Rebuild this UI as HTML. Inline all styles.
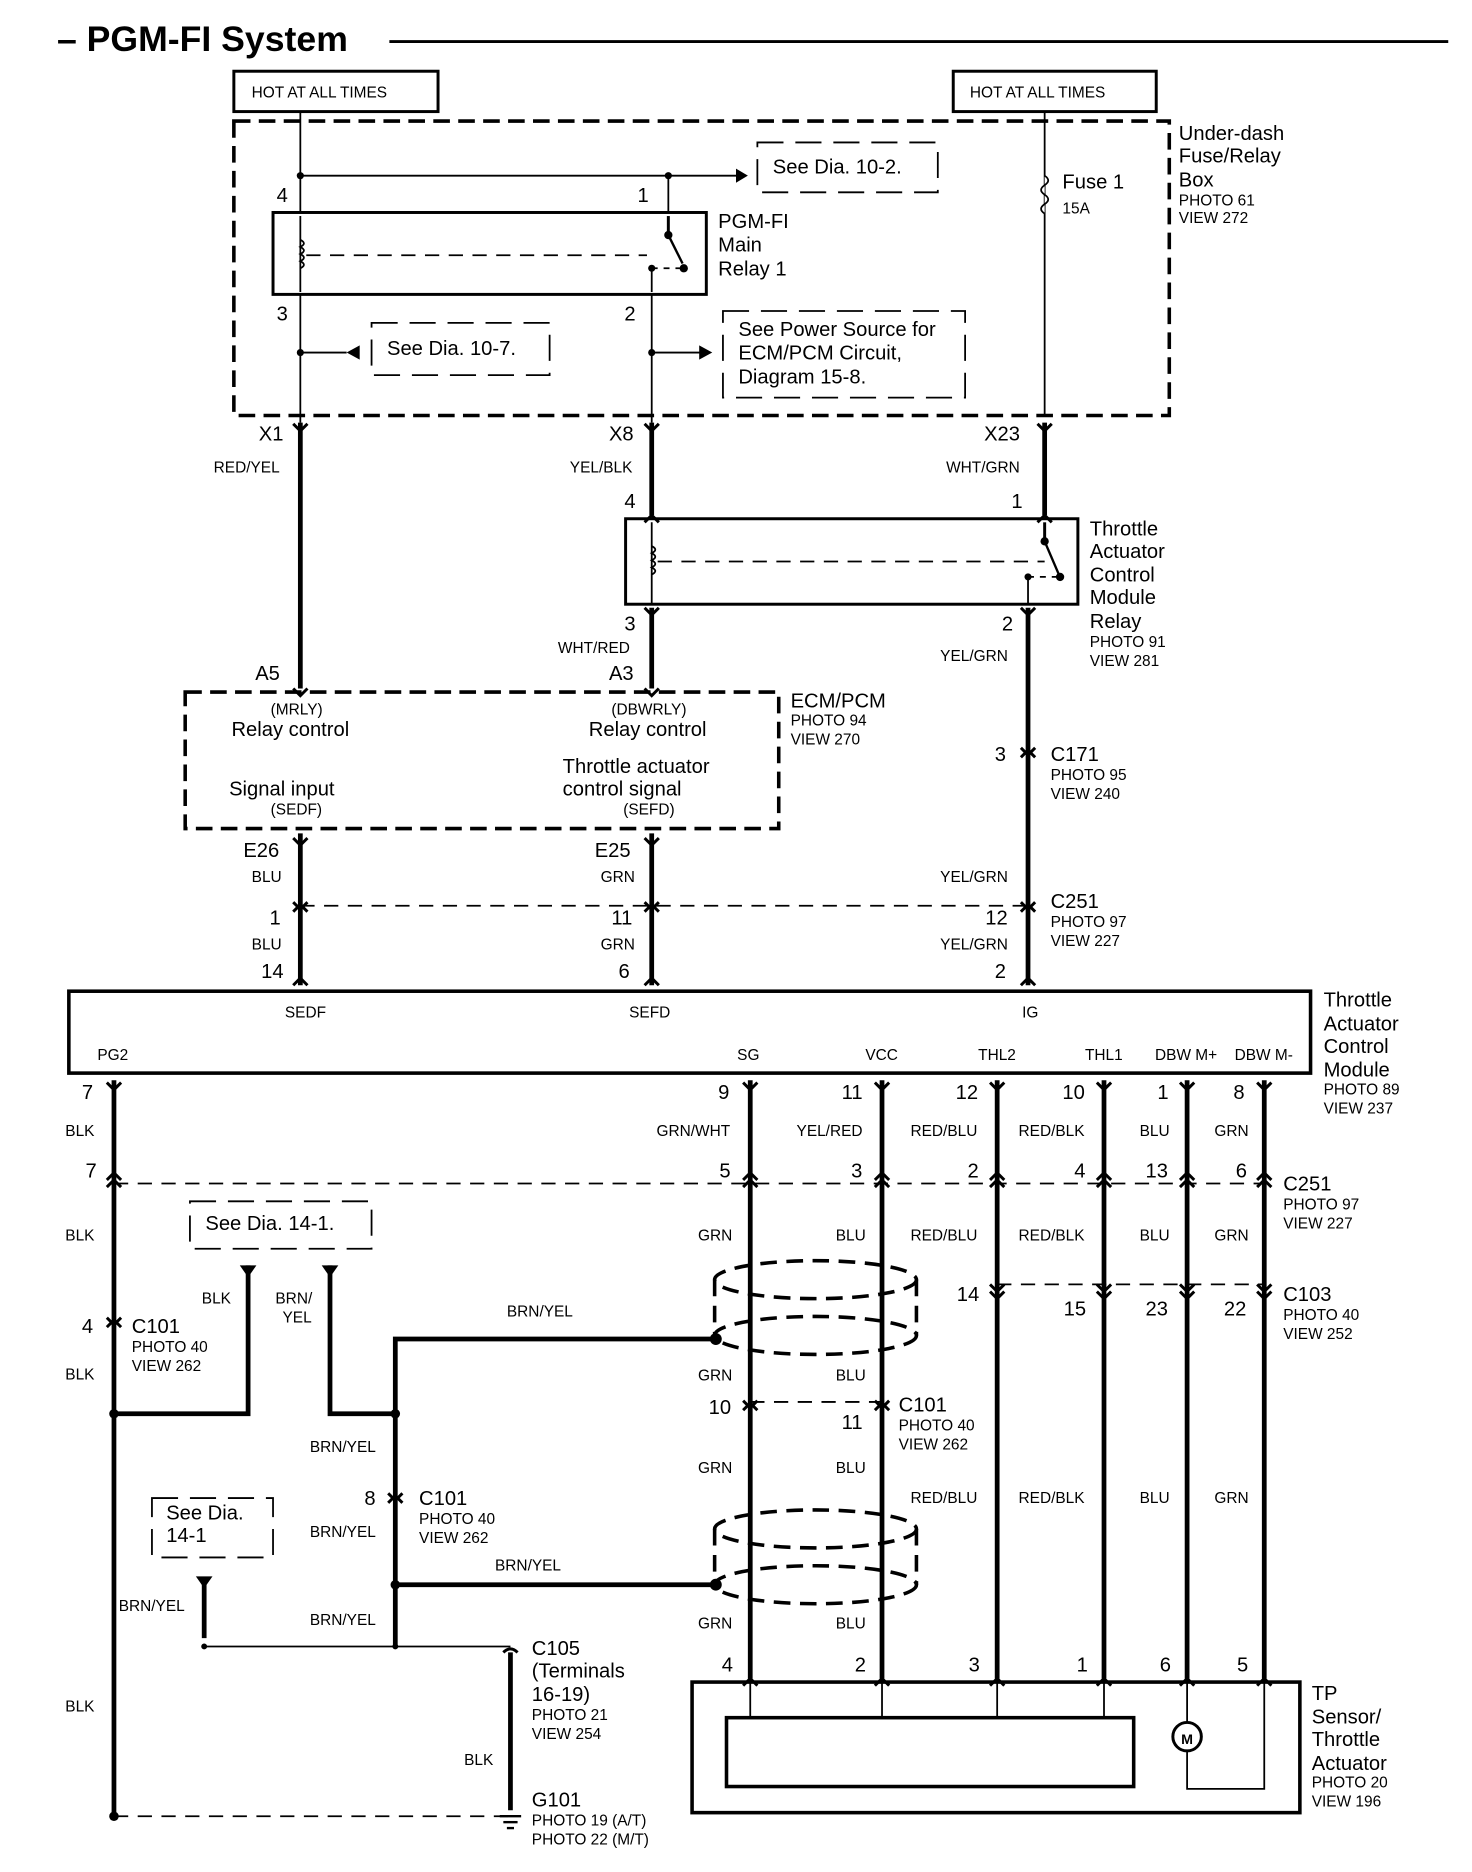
<!DOCTYPE html>
<html><head><style>
html,body{margin:0;padding:0;background:#fff}
svg{display:block}
text{font-family:"Liberation Sans",Arial,sans-serif;fill:#000}
.l{font-size:17px}.s{font-size:13px}.c{font-size:13px}
</style></head><body>
<svg width="1472" height="1872" viewBox="0 0 1240 1577" preserveAspectRatio="none" xmlns="http://www.w3.org/2000/svg">
<g stroke="#000" fill="none">
<!-- title line -->
<line x1="328" y1="35" x2="1220" y2="35" stroke-width="2.5"/>
<!-- hot boxes -->
<rect x="197" y="60" width="172" height="34" stroke-width="2.5"/>
<rect x="803" y="60" width="171" height="34" stroke-width="2.5"/>
<!-- under-dash box -->
<rect x="197" y="102" width="788" height="248" stroke-width="3" stroke-dasharray="14,7"/>
<!-- thin wires inside -->
<g stroke-width="1.5">
<line x1="253" y1="94" x2="253" y2="179"/>
<line x1="253" y1="148" x2="628" y2="148"/>
<line x1="563" y1="148" x2="563" y2="179"/>
<line x1="880" y1="94" x2="880" y2="350"/>
<line x1="253" y1="248" x2="253" y2="356"/>
<line x1="549" y1="248" x2="549" y2="356"/>
<line x1="253" y1="297" x2="292" y2="297"/>
<line x1="549" y1="297" x2="592" y2="297"/>
<!-- coil -->
<line x1="253" y1="182" x2="253" y2="246"/>
<line x1="258" y1="215" x2="545" y2="215" stroke-dasharray="12,8"/>
<line x1="563" y1="182" x2="563" y2="198" stroke-width="2.5"/>
<line x1="563" y1="198" x2="575" y2="222" stroke-width="2"/>
<line x1="549" y1="226" x2="549" y2="246"/>
<line x1="549" y1="226" x2="575" y2="226" stroke-dasharray="5,5"/>
<!-- fuse -->
<path d="M880 148 q6 4 0 8 q-6 4 0 8 q6 4 0 8 q-6 4 0 8" fill="#fff"/>
</g>
<g fill="#000" stroke="none">
<circle cx="253" cy="148" r="3"/><circle cx="563" cy="148" r="3"/>
<circle cx="563" cy="198" r="3.5"/><circle cx="576" cy="226" r="3.5"/><circle cx="549" cy="226" r="3"/>
<circle cx="253" cy="297" r="3"/><circle cx="549" cy="297" r="3"/>
<polygon points="630,148 620,142 620,154"/>
<polygon points="292,297 303,291 303,303"/>
<polygon points="600,297 589,291 589,303"/>
</g>
<g stroke-width="1.5">
<path d="M253 215 m0 -13 q6 3 0 6 q6 3 0 6 q6 3 0 6 q6 3 0 6"/>
</g>
<rect x="230" y="179" width="365" height="69" stroke-width="2.5"/>
<!-- see boxes -->
<g stroke-width="1.5" stroke-dasharray="22,10">
<rect x="638" y="120" width="152" height="42"/>
<rect x="313" y="272" width="150" height="44"/>
<rect x="609" y="262" width="204" height="73"/>
<rect x="160" y="1012" width="153" height="40"/>
<rect x="128" y="1262" width="102" height="50"/>
</g>
<!-- thick wires -->
<g stroke-width="4">
<line x1="253" y1="356" x2="253" y2="580"/>
<line x1="549" y1="356" x2="549" y2="434"/>
<line x1="880" y1="356" x2="880" y2="434"/>
<line x1="549" y1="512" x2="549" y2="580"/>
<line x1="866" y1="512" x2="866" y2="830"/>
<line x1="253" y1="702" x2="253" y2="830"/>
<line x1="549" y1="702" x2="549" y2="830"/>
<line x1="96" y1="910" x2="96" y2="1530"/>
<line x1="632" y1="910" x2="632" y2="1414"/>
<line x1="743" y1="910" x2="743" y2="1414"/>
<line x1="840" y1="910" x2="840" y2="1414"/>
<line x1="930" y1="910" x2="930" y2="1414"/>
<line x1="1000" y1="910" x2="1000" y2="1414"/>
<line x1="1065" y1="910" x2="1065" y2="1414"/>
<polyline points="603,1128 333,1128 333,1387"/>
<polyline points="96,1191 209,1191 209,1066"/>
<polyline points="278,1066 278,1191 333,1191"/>
<line x1="333" y1="1335" x2="603" y2="1335"/>
<line x1="172" y1="1330" x2="172" y2="1380"/>
<line x1="430" y1="1392" x2="430" y2="1525"/>
</g>
<!-- thin -->
<g stroke-width="1.5">
<line x1="172" y1="1387" x2="430" y2="1387"/>
<line x1="96" y1="1530" x2="430" y2="1530" stroke-dasharray="12,8"/>
<line x1="253" y1="763" x2="866" y2="763" stroke-dasharray="12,8"/>
<line x1="96" y1="997" x2="1065" y2="997" stroke-dasharray="12,8"/>
<line x1="840" y1="1082" x2="1065" y2="1082" stroke-dasharray="12,8"/>
<line x1="632" y1="1181" x2="743" y2="1181" stroke-dasharray="12,8"/>
<line x1="632" y1="1417" x2="632" y2="1447"/>
<line x1="743" y1="1417" x2="743" y2="1447"/>
<line x1="840" y1="1417" x2="840" y2="1447"/>
<line x1="930" y1="1417" x2="930" y2="1447"/>
<line x1="1000" y1="1417" x2="1000" y2="1451"/>
<polyline points="1000,1475 1000,1507 1065,1507 1065,1417"/>
<line x1="549" y1="440" x2="549" y2="509"/>
<line x1="554" y1="473" x2="880" y2="473" stroke-dasharray="12,8"/>
<line x1="880" y1="440" x2="880" y2="456" stroke-width="2.5"/>
<line x1="880" y1="456" x2="892" y2="484" stroke-width="2"/>
<line x1="866" y1="486" x2="866" y2="509"/>
<line x1="866" y1="486" x2="892" y2="486" stroke-dasharray="5,5"/>
<path d="M549 460 q6 3 0 6 q6 3 0 6 q6 3 0 6 q6 3 0 6"/>
</g>
<g fill="#000" stroke="none">
<circle cx="880" cy="456" r="3.5"/><circle cx="893" cy="486" r="3.5"/><circle cx="866" cy="486" r="3"/>
<circle cx="96" cy="1191" r="4"/><circle cx="333" cy="1191" r="4"/><circle cx="333" cy="1335" r="4"/>
<circle cx="603" cy="1128" r="5"/><circle cx="603" cy="1335" r="5"/>
<circle cx="96" cy="1530" r="4"/><circle cx="172" cy="1387" r="2.5"/><circle cx="333" cy="1387" r="2.5"/>
<polygon points="202,1066 216,1066 209,1076"/>
<polygon points="271,1066 285,1066 278,1076"/>
<polygon points="165,1328 179,1328 172,1338"/>
</g>
<!-- ground -->
<g stroke-width="2"><line x1="421" y1="1530" x2="439" y2="1530"/><line x1="424" y1="1535" x2="436" y2="1535"/><line x1="427" y1="1540" x2="433" y2="1540"/></g>
<!-- connector forks -->
<g stroke-width="2.5">
<path d="M247 357 l6 6 l6 -6 M543 357 l6 6 l6 -6 M874 357 l6 6 l6 -6"/>
<path d="M543 440 l6 -6 l6 6 M874 440 l6 -6 l6 6"/>
<path d="M543 512 l6 6 l6 -6 M860 512 l6 6 l6 -6"/>
<path d="M247 580 l6 6 l6 -6 M543 580 l6 6 l6 -6"/>
<path d="M247 706 l6 6 l6 -6 M543 706 l6 6 l6 -6"/>
<path d="M860 630 l6 6 l6 -6 M860 638 l6 -6 l6 6"/>
<path d="M247 760 l6 6 l6 -6 M247 768 l6 -6 l6 6 M543 760 l6 6 l6 -6 M543 768 l6 -6 l6 6 M860 760 l6 6 l6 -6 M860 768 l6 -6 l6 6"/>
<path d="M247 830 l6 -6 l6 6 M543 830 l6 -6 l6 6 M860 830 l6 -6 l6 6"/>
<path d="M90 912 l6 6 l6 -6 M626 912 l6 6 l6 -6 M737 912 l6 6 l6 -6 M834 912 l6 6 l6 -6 M924 912 l6 6 l6 -6 M994 912 l6 6 l6 -6 M1059 912 l6 6 l6 -6"/>
<path d="M90 994 l6 -6 l6 6 M90 1000 l6 -6 l6 6 M626 994 l6 -6 l6 6 M626 1000 l6 -6 l6 6 M737 994 l6 -6 l6 6 M737 1000 l6 -6 l6 6 M834 994 l6 -6 l6 6 M834 1000 l6 -6 l6 6 M924 994 l6 -6 l6 6 M924 1000 l6 -6 l6 6 M994 994 l6 -6 l6 6 M994 1000 l6 -6 l6 6 M1059 994 l6 -6 l6 6 M1059 1000 l6 -6 l6 6"/>
<path d="M834 1082 l6 6 l6 -6 M834 1088 l6 6 l6 -6 M924 1082 l6 6 l6 -6 M924 1088 l6 6 l6 -6 M994 1082 l6 6 l6 -6 M994 1088 l6 6 l6 -6 M1059 1082 l6 6 l6 -6 M1059 1088 l6 6 l6 -6"/>
<path d="M90 1110 l6 6 l6 -6 M90 1118 l6 -6 l6 6 M626 1180 l6 6 l6 -6 M626 1188 l6 -6 l6 6 M737 1180 l6 6 l6 -6 M737 1188 l6 -6 l6 6 M327 1258 l6 6 l6 -6 M327 1266 l6 -6 l6 6"/>
<path d="M626 1420 l6 -6 l6 6 M737 1420 l6 -6 l6 6 M834 1420 l6 -6 l6 6 M924 1420 l6 -6 l6 6 M994 1420 l6 -6 l6 6 M1059 1420 l6 -6 l6 6"/>
<path d="M424 1392 q6 -6 12 0"/>
</g>
<!-- shields -->
<g stroke-width="3" stroke-dasharray="14,8">
<ellipse cx="687" cy="1078" rx="85" ry="16"/><ellipse cx="687" cy="1125" rx="85" ry="16"/>
<line x1="602" y1="1078" x2="602" y2="1125"/><line x1="772" y1="1078" x2="772" y2="1125"/>
<ellipse cx="687" cy="1288" rx="85" ry="16"/><ellipse cx="687" cy="1335" rx="85" ry="16"/>
<line x1="602" y1="1288" x2="602" y2="1335"/><line x1="772" y1="1288" x2="772" y2="1335"/>
</g>
<!-- ECM box -->
<rect x="156" y="583" width="500" height="115" stroke-width="3" stroke-dasharray="14,7"/>
<!-- relay TACM -->
<rect x="527" y="437" width="381" height="72" stroke-width="2.5"/>
<!-- TACM -->
<rect x="58" y="835" width="1046" height="69" stroke-width="3"/>
<!-- TP box -->
<rect x="583" y="1417" width="512" height="110" stroke-width="3"/>
<rect x="612" y="1447" width="343" height="58" stroke-width="3"/>
<circle cx="1000" cy="1463" r="12" stroke-width="2.5"/>
</g>
<text x="48" y="43" style="font-size:30px;font-weight:bold">– PGM-FI System</text>
<text x="212" y="82" class="s">HOT AT ALL TIMES</text>
<text x="817" y="82" class="s">HOT AT ALL TIMES</text>
<text x="651" y="146" class="l">See Dia. 10-2.</text>
<text x="326" y="299" class="l">See Dia. 10-7.</text>
<text x="622" y="283" class="l">See Power Source for</text>
<text x="622" y="303" class="l">ECM/PCM Circuit,</text>
<text x="622" y="323" class="l">Diagram 15-8.</text>
<text x="605" y="192" class="l">PGM-FI</text><text x="605" y="212" class="l">Main</text><text x="605" y="232" class="l">Relay 1</text>
<text x="233" y="170" class="l">4</text><text x="537" y="170" class="l">1</text>
<text x="233" y="270" class="l">3</text><text x="526" y="270" class="l">2</text>
<text x="895" y="159" class="l">Fuse 1</text><text x="895" y="180" class="s">15A</text>
<text x="993" y="118" class="l">Under-dash</text><text x="993" y="137" class="l">Fuse/Relay</text><text x="993" y="157" class="l">Box</text>
<text x="993" y="173" class="s">PHOTO 61</text><text x="993" y="188" class="s">VIEW 272</text>
<text x="218" y="371" class="l">X1</text><text x="513" y="371" class="l">X8</text><text x="829" y="371" class="l">X23</text>
<text x="180" y="398" class="c">RED/YEL</text><text x="480" y="398" class="c">YEL/BLK</text><text x="797" y="398" class="c">WHT/GRN</text>
<text x="526" y="428" class="l">4</text><text x="852" y="428" class="l">1</text>
<text x="918" y="451" class="l">Throttle</text><text x="918" y="470" class="l">Actuator</text><text x="918" y="490" class="l">Control</text><text x="918" y="509" class="l">Module</text><text x="918" y="529" class="l">Relay</text>
<text x="918" y="545" class="s">PHOTO 91</text><text x="918" y="561" class="s">VIEW 281</text>
<text x="526" y="531" class="l">3</text><text x="844" y="531" class="l">2</text>
<text x="470" y="550" class="c">WHT/RED</text><text x="792" y="557" class="c">YEL/GRN</text>
<text x="215" y="573" class="l">A5</text><text x="513" y="573" class="l">A3</text>
<text x="666" y="596" class="l">ECM/PCM</text><text x="666" y="611" class="s">PHOTO 94</text><text x="666" y="627" class="s">VIEW 270</text>
<text x="228" y="602" class="c">(MRLY)</text><text x="195" y="620" class="l">Relay control</text>
<text x="515" y="602" class="c">(DBWRLY)</text><text x="496" y="620" class="l">Relay control</text>
<text x="193" y="670" class="l">Signal input</text><text x="228" y="686" class="c">(SEDF)</text>
<text x="474" y="651" class="l">Throttle actuator</text><text x="474" y="670" class="l">control signal</text><text x="525" y="686" class="c">(SEFD)</text>
<text x="838" y="641" class="l">3</text><text x="885" y="641" class="l">C171</text><text x="885" y="657" class="s">PHOTO 95</text><text x="885" y="673" class="s">VIEW 240</text>
<text x="205" y="722" class="l">E26</text><text x="501" y="722" class="l">E25</text>
<text x="212" y="743" class="c">BLU</text><text x="506" y="743" class="c">GRN</text><text x="792" y="743" class="c">YEL/GRN</text>
<text x="227" y="779" class="l">1</text><text x="515" y="779" class="l">11</text><text x="830" y="779" class="l">12</text>
<text x="885" y="765" class="l">C251</text><text x="885" y="781" class="s">PHOTO 97</text><text x="885" y="797" class="s">VIEW 227</text>
<text x="212" y="800" class="c">BLU</text><text x="506" y="800" class="c">GRN</text><text x="792" y="800" class="c">YEL/GRN</text>
<text x="220" y="824" class="l">14</text><text x="521" y="824" class="l">6</text><text x="838" y="824" class="l">2</text>
<text x="240" y="857" class="c">SEDF</text><text x="530" y="857" class="c">SEFD</text><text x="861" y="857" class="c">IG</text>
<text x="82" y="893" class="c">PG2</text><text x="621" y="893" class="c">SG</text><text x="729" y="893" class="c">VCC</text><text x="824" y="893" class="c">THL2</text><text x="914" y="893" class="c">THL1</text><text x="973" y="893" class="c">DBW M+</text><text x="1040" y="893" class="c">DBW M-</text>
<text x="1115" y="848" class="l">Throttle</text><text x="1115" y="868" class="l">Actuator</text><text x="1115" y="887" class="l">Control</text><text x="1115" y="907" class="l">Module</text>
<text x="1115" y="922" class="s">PHOTO 89</text><text x="1115" y="938" class="s">VIEW 237</text>
<text x="69" y="926" class="l">7</text><text x="605" y="926" class="l">9</text><text x="709" y="926" class="l">11</text><text x="805" y="926" class="l">12</text><text x="895" y="926" class="l">10</text><text x="975" y="926" class="l">1</text><text x="1039" y="926" class="l">8</text>
<text x="55" y="957" class="c">BLK</text><text x="553" y="957" class="c">GRN/WHT</text><text x="671" y="957" class="c">YEL/RED</text><text x="767" y="957" class="c">RED/BLU</text><text x="858" y="957" class="c">RED/BLK</text><text x="960" y="957" class="c">BLU</text><text x="1023" y="957" class="c">GRN</text>
<text x="72" y="992" class="l">7</text><text x="606" y="992" class="l">5</text><text x="717" y="992" class="l">3</text><text x="815" y="992" class="l">2</text><text x="905" y="992" class="l">4</text><text x="965" y="992" class="l">13</text><text x="1041" y="992" class="l">6</text>
<text x="1081" y="1003" class="l">C251</text><text x="1081" y="1019" class="s">PHOTO 97</text><text x="1081" y="1035" class="s">VIEW 227</text>
<text x="55" y="1045" class="c">BLK</text><text x="588" y="1045" class="c">GRN</text><text x="704" y="1045" class="c">BLU</text><text x="767" y="1045" class="c">RED/BLU</text><text x="858" y="1045" class="c">RED/BLK</text><text x="960" y="1045" class="c">BLU</text><text x="1023" y="1045" class="c">GRN</text>
<text x="173" y="1036" class="l">See Dia. 14-1.</text>
<text x="170" y="1098" class="c">BLK</text><text x="232" y="1098" class="c">BRN/</text><text x="238" y="1114" class="c">YEL</text>
<text x="806" y="1096" class="l">14</text><text x="896" y="1108" class="l">15</text><text x="965" y="1108" class="l">23</text><text x="1031" y="1108" class="l">22</text>
<text x="1081" y="1096" class="l">C103</text><text x="1081" y="1112" class="s">PHOTO 40</text><text x="1081" y="1128" class="s">VIEW 252</text>
<text x="427" y="1109" class="c">BRN/YEL</text>
<text x="69" y="1123" class="l">4</text><text x="111" y="1123" class="l">C101</text><text x="111" y="1139" class="s">PHOTO 40</text><text x="111" y="1155" class="s">VIEW 262</text>
<text x="55" y="1162" class="c">BLK</text><text x="588" y="1163" class="c">GRN</text><text x="704" y="1163" class="c">BLU</text>
<text x="597" y="1191" class="l">10</text><text x="709" y="1204" class="l">11</text>
<text x="757" y="1189" class="l">C101</text><text x="757" y="1205" class="s">PHOTO 40</text><text x="757" y="1221" class="s">VIEW 262</text>
<text x="261" y="1223" class="c">BRN/YEL</text>
<text x="588" y="1241" class="c">GRN</text><text x="704" y="1241" class="c">BLU</text>
<text x="767" y="1266" class="c">RED/BLU</text><text x="858" y="1266" class="c">RED/BLK</text><text x="960" y="1266" class="c">BLU</text><text x="1023" y="1266" class="c">GRN</text>
<text x="307" y="1268" class="l">8</text><text x="353" y="1268" class="l">C101</text><text x="353" y="1284" class="s">PHOTO 40</text><text x="353" y="1300" class="s">VIEW 262</text>
<text x="140" y="1280" class="l">See Dia.</text><text x="140" y="1299" class="l">14-1</text>
<text x="261" y="1295" class="c">BRN/YEL</text><text x="417" y="1323" class="c">BRN/YEL</text>
<text x="100" y="1357" class="c">BRN/YEL</text><text x="261" y="1369" class="c">BRN/YEL</text>
<text x="588" y="1372" class="c">GRN</text><text x="704" y="1372" class="c">BLU</text>
<text x="448" y="1394" class="l">C105</text><text x="448" y="1413" class="l">(Terminals</text><text x="448" y="1433" class="l">16-19)</text>
<text x="448" y="1449" class="s">PHOTO 21</text><text x="448" y="1465" class="s">VIEW 254</text>
<text x="608" y="1408" class="l">4</text><text x="720" y="1408" class="l">2</text><text x="816" y="1408" class="l">3</text><text x="907" y="1408" class="l">1</text><text x="977" y="1408" class="l">6</text><text x="1042" y="1408" class="l">5</text>
<text x="1105" y="1432" class="l">TP</text><text x="1105" y="1452" class="l">Sensor/</text><text x="1105" y="1471" class="l">Throttle</text><text x="1105" y="1491" class="l">Actuator</text>
<text x="1105" y="1506" class="s">PHOTO 20</text><text x="1105" y="1522" class="s">VIEW 196</text>
<text x="55" y="1442" class="c">BLK</text><text x="391" y="1487" class="c">BLK</text>
<text x="995" y="1469" style="font-size:12px;font-weight:bold">M</text>
<text x="448" y="1522" class="l">G101</text><text x="448" y="1538" class="s">PHOTO 19 (A/T)</text><text x="448" y="1554" class="s">PHOTO 22 (M/T)</text>
</svg>
</body></html>
